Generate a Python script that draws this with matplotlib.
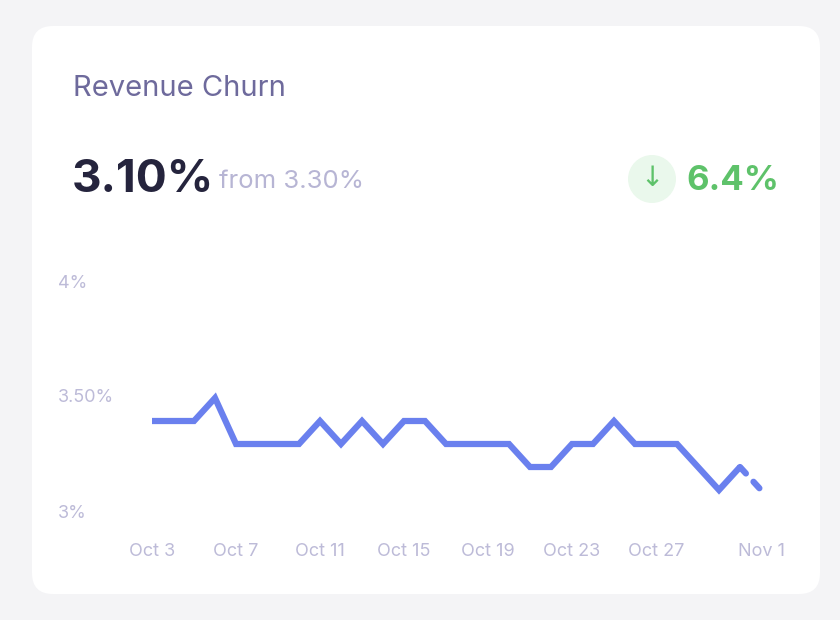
import matplotlib
matplotlib.use("Agg")
import matplotlib.pyplot as plt
from matplotlib.patches import FancyBboxPatch, Ellipse
import matplotlib.transforms as mtrans

plt.rcParams['font.family'] = ['Inter', 'DejaVu Sans']

values = [3.4, 3.4, 3.4, 3.5, 3.3, 3.3, 3.3, 3.3, 3.4, 3.3, 3.4, 3.3, 3.4, 3.4, 3.3,
          3.3, 3.3, 3.3, 3.2, 3.2, 3.3, 3.3, 3.4, 3.3, 3.3, 3.3, 3.2, 3.1, 3.2, 3.1]
days = list(range(len(values)))
xtick_pos = [0, 4, 8, 12, 16, 20, 24, 29]
xtick_labels = ["Oct 3", "Oct 7", "Oct 11", "Oct 15", "Oct 19", "Oct 23", "Oct 27", "Nov 1"]
ytick_vals = [3.0, 3.5, 4.0]
ytick_labels = ["3%", "3.50%", "4%"]

W, H = 840, 620
fig = plt.figure(figsize=(8.4, 6.2), dpi=100)
fig.patch.set_facecolor("#f4f4f6")

def fx(px): return px / W
def fy(py): return 1 - py / H

card = FancyBboxPatch((fx(32), fy(594)), fx(820) - fx(32), fy(26) - fy(594),
                      boxstyle="round,pad=0,rounding_size=0.025", transform=fig.transFigure,
                      facecolor="white", edgecolor="none", mutation_aspect=W / H, zorder=-5)
fig.patches.append(card)

fig.text(fx(73), fy(88), "Revenue Churn", fontsize=21, color="#6e6a9c", va="center", ha="left")
fig.text(fx(72), fy(180), "3.10%", fontsize=33, fontweight="bold", color="#25243d", va="center", ha="left")
fig.text(fx(219), fy(182), "from 3.30%", fontsize=18.5, color="#b7b5d4", va="center", ha="left")
circ = Ellipse((fx(652), fy(179)), fx(48), 48 / H, transform=fig.transFigure,
               facecolor="#eaf8ec", edgecolor="none", zorder=-4)
fig.patches.append(circ)
fig.text(fx(652), fy(178), "↓", fontsize=20, color="#5ec26a", va="center", ha="center",
         family=['DejaVu Sans'])
fig.text(fx(779), fy(181), "6.4%", fontsize=25, fontweight="bold", color="#5ec26a", va="center", ha="right")

ax = fig.add_axes([fx(140), fy(530), fx(780) - fx(140), fy(260) - fy(530)])
ax.set_zorder(5)
ax.patch.set_alpha(0)
ax.set_xlim((140 - 152) / 21, (780 - 152) / 21)
ax.set_ylim(3 - (530 - 513) / 230, 3 + (513 - 260) / 230)
ax.axis("off")
col = "#6a80ee"
ax.plot(days[:-1], values[:-1], color=col, lw=4.5, solid_joinstyle="miter", solid_capstyle="butt")
ax.plot(days[-2:], values[-2:], color=col, lw=4.5, dashes=(1.4, 1.8),
        dash_capstyle="round")

tr = mtrans.blended_transform_factory(fig.transFigure, ax.transData)
for v, l in zip(ytick_vals, ytick_labels):
    ax.text(fx(58), v, l, transform=tr, fontsize=13, color="#bdbbd8", va="center", ha="left")
tr2 = mtrans.blended_transform_factory(ax.transData, fig.transFigure)
for p, l in zip(xtick_pos, xtick_labels):
    ax.text(p, fy(551), l, transform=tr2, fontsize=13, color="#bdbbd8", va="center", ha="center")

fig.savefig("out.png", dpi=100, facecolor=fig.get_facecolor())
